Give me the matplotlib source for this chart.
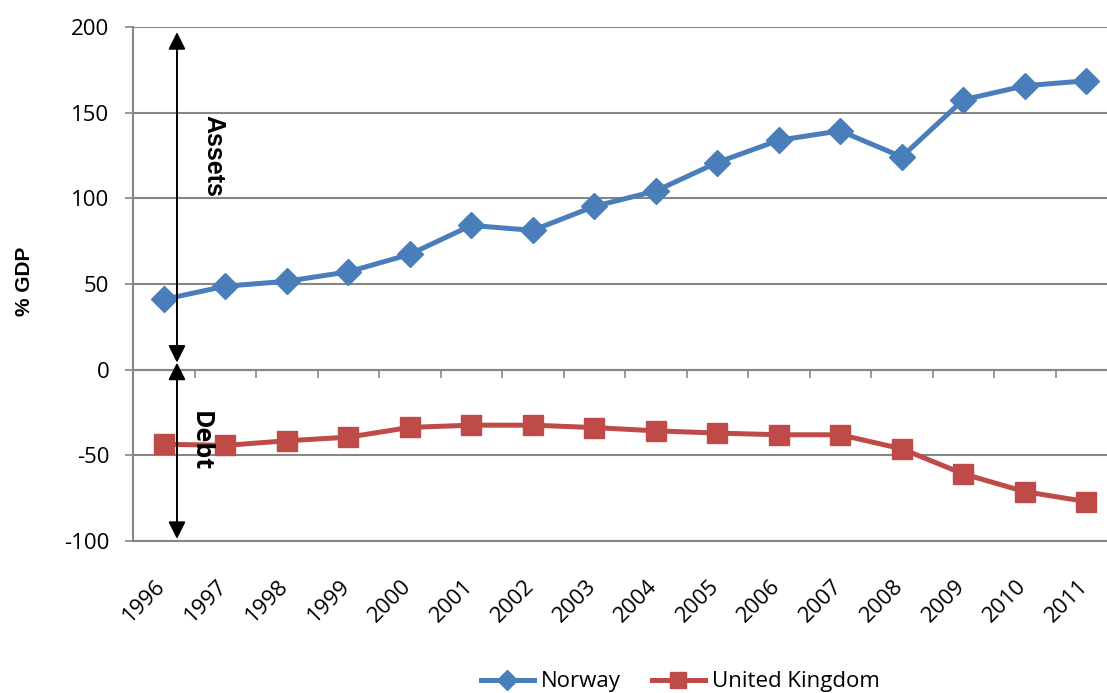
import numpy as np
import matplotlib.pyplot as plt
import matplotlib.transforms as mtransforms

plt.rcParams['font.family'] = ['Open Sans', 'DejaVu Sans']
plt.rcParams['axes.unicode_minus'] = False

years = ['1996', '1997', '1998', '1999', '2000', '2001', '2002', '2003',
         '2004', '2005', '2006', '2007', '2008', '2009', '2010', '2011']
norway = [41, 48.7, 51.6, 57.1, 67.3, 84.2, 81.3, 95.3,
          104.3, 120.9, 133.9, 139.4, 124.2, 157.5, 165.7, 168.6]
uk = [-43.5, -44.2, -41.5, -39.4, -33.7, -32.4, -32.4, -33.8,
      -35.7, -37.0, -38.0, -38.0, -46.2, -60.8, -71.2, -77.0]
yticks = [-100, -50, 0, 50, 100, 150, 200]

grid_col = '#868686'
blue = '#4A7EBB'
red = '#BE4B48'

fig = plt.figure(figsize=(11.07, 6.93), dpi=100)
ax = fig.add_axes([133/1107, 152/693, 984/1107, 514/693])

x = np.arange(len(years))
ax.plot(x, norway, color=blue, lw=3.6, marker='D', ms=13, label='Norway', zorder=3)
ax.plot(x, uk, color=red, lw=3.6, marker='s', ms=14, label='United Kingdom', zorder=3)

ax.set_xlim(-0.5, len(years) - 0.5)
ax.set_ylim(-100, 200)
ax.set_yticks(yticks)
ax.yaxis.grid(True, color=grid_col, lw=1.5)
ax.set_axisbelow(True)
ax.tick_params(axis='y', length=6, width=1.2, color=grid_col, pad=11, labelsize=16)
for s in ['top', 'right']:
    ax.spines[s].set_visible(False)
for s in ['left', 'bottom']:
    ax.spines[s].set_color(grid_col)
    ax.spines[s].set_linewidth(1.5)

# year labels at the bottom, no marks there
ax.set_xticks(x)
ax.tick_params(axis='x', length=0, pad=25)
off = mtransforms.ScaledTranslation(6/100, 0, fig.dpi_scale_trans)
ax.set_xticklabels(years, rotation=45, ha='right', fontsize=16)
for lab in ax.get_xticklabels():
    lab.set_transform(lab.get_transform() + off)

# category axis crossing at zero
sec = ax.secondary_xaxis(0, transform=ax.transData)
sec.set_xticks(x[:-1] + 0.5)
sec.set_xticklabels([])
sec.tick_params(length=6, width=1.2, color=grid_col, direction='out')
sec.spines['bottom'].set_color(grid_col)
sec.spines['bottom'].set_linewidth(1.5)

# Assets / Debt arrows
arrow_x = 0.215
ap = dict(arrowstyle='<|-|>', color='black', lw=1.4, mutation_scale=26, shrinkA=0, shrinkB=0)
ax.annotate('', xy=(arrow_x, 197), xytext=(arrow_x, 4.1), arrowprops=ap, zorder=4)
ax.annotate('', xy=(arrow_x, -98.8), xytext=(arrow_x, 4.1), arrowprops=ap, zorder=4)
ax.text(0.80, 124.5, 'Assets', rotation=270, ha='center', va='center',
        fontsize=18, fontweight='bold', family=['Liberation Sans', 'DejaVu Sans'])
ax.text(0.59, -41.5, 'Debt', rotation=270, ha='center', va='center',
        fontsize=18, fontweight='bold', zorder=5)

fig.text(25/1107, 1 - 281/693, '% GDP', rotation=90, ha='center', va='center',
         fontsize=15, fontweight='bold', family=['Liberation Sans', 'DejaVu Sans'])

fig.legend(loc='center', bbox_to_anchor=(680/1107, 11/693), ncol=2, frameon=False,
           fontsize=16, handlelength=2.4, markerscale=0.8, columnspacing=1.4,
           handletextpad=0.3)

fig.savefig('out.png', dpi=100)
